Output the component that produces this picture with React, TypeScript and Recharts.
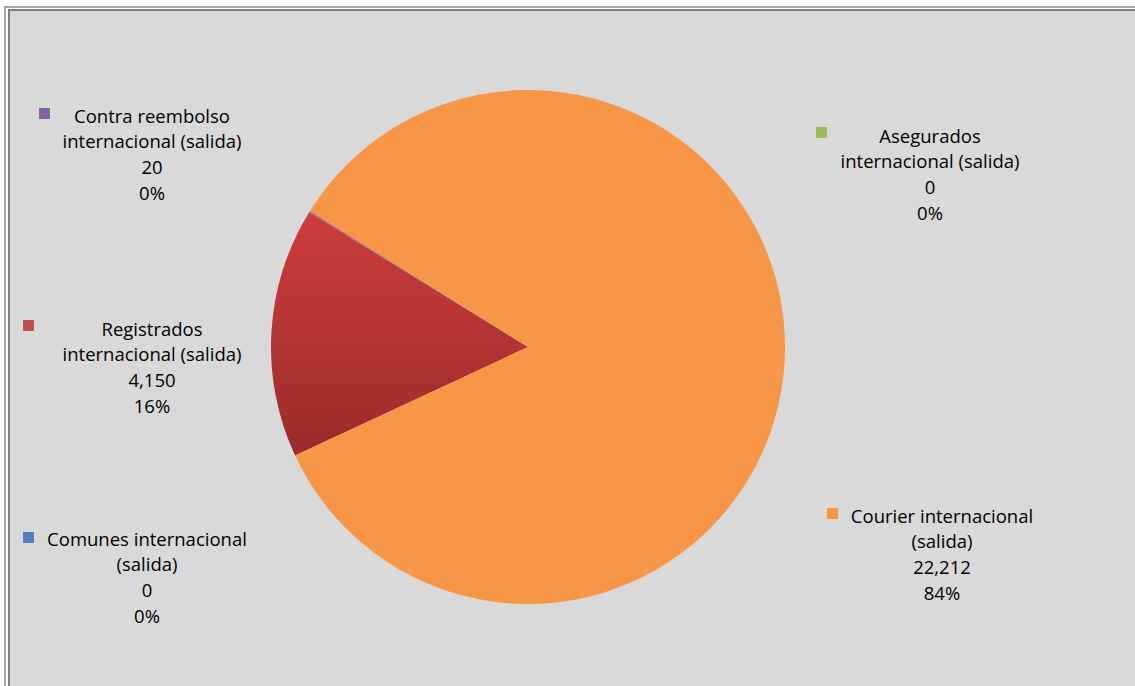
import { Cell, Pie, PieChart } from 'recharts'

const categories = [
    'Comunes internacional (salida)',
    'Registrados internacional (salida)',
    'Contra reembolso internacional (salida)',
    'Courier internacional (salida)',
    'Asegurados internacional (salida)',
]
const shipments = [0, 4150, 20, 22212, 0]

const sliceFills = ['#4f81bd', 'url(#redFade)', '#8064a2', '#f79646', '#9bbb59']
const keyFills = ['#4f81bd', '#c0504d', '#8064a2', '#f79646', '#9bbb59']

// how Excel wrapped each label
const labelLines: Record<string, string[]> = {
    'Comunes internacional (salida)': ['Comunes internacional', '(salida)'],
    'Registrados internacional (salida)': ['Registrados', 'internacional (salida)'],
    'Contra reembolso internacional (salida)': ['Contra reembolso', 'internacional (salida)'],
    'Courier internacional (salida)': ['Courier internacional', '(salida)'],
    'Asegurados internacional (salida)': ['Asegurados', 'internacional (salida)'],
}

// where the labels were dragged to: text center, first line, legend key
const labelSpots: Record<string, { x: number; y: number; kx: number; ky: number }> = {
    'Comunes internacional (salida)': { x: 147, y: 538, kx: 23, ky: 532 },
    'Registrados internacional (salida)': { x: 152, y: 328, kx: 23, ky: 320 },
    'Contra reembolso internacional (salida)': { x: 152, y: 115, kx: 39, ky: 108 },
    'Courier internacional (salida)': { x: 942, y: 515, kx: 827, ky: 508 },
    'Asegurados internacional (salida)': { x: 930, y: 135, kx: 816, ky: 127 },
}

const data = categories.map((name, i) => ({ name, value: shipments[i] }))

const lineGap = 25.8

function renderLabel(props: any) {
    const name = props.name ?? props.payload?.name
    const spot = labelSpots[name]
    if (!spot) return null
    const idx = categories.indexOf(name)
    const lines = [
        ...labelLines[name],
        Number(props.value).toLocaleString('en-US'),
        `${Math.round((props.percent ?? 0) * 100)}%`,
    ]
    return (
        <g key={name}>
            <rect x={spot.kx} y={spot.ky} width={11} height={11} fill={keyFills[idx]} />
            {lines.map((t, i) => (
                <text
                    key={i}
                    x={spot.x}
                    y={spot.y + i * lineGap}
                    textAnchor="middle"
                    dominantBaseline="central"
                    fill="#000"
                    fontFamily="'Open Sans', sans-serif"
                    fontSize={18.5}
                >
                    {t}
                </text>
            ))}
        </g>
    )
}

export default function App() {
    return (
        <div style={{ position: 'relative', width: 1135, height: 686, overflow: 'hidden', background: '#fff' }}>
            <style>{'body{margin:0}'}</style>
            <div
                style={{
                    position: 'absolute',
                    left: 4,
                    top: 6,
                    width: 1200,
                    height: 800,
                    borderLeft: '2px solid #a6a6a6',
                    borderTop: '2px solid #a6a6a6',
                }}
            />
            <div
                style={{
                    position: 'absolute',
                    left: 8,
                    top: 9,
                    width: 1200,
                    height: 800,
                    borderLeft: '2px solid #808080',
                    borderTop: '2px solid #808080',
                    background: '#d9d9d9',
                }}
            />
            <div style={{ position: 'absolute', left: 0, top: 0 }}>
                <PieChart width={1135} height={686} margin={{ top: 0, right: 0, bottom: 0, left: 0 }}>
                    <defs>
                        <linearGradient id="redFade" x1="0" y1="0" x2="0" y2="1">
                            <stop offset="0%" stopColor="#cd3e3c" />
                            <stop offset="100%" stopColor="#9b2a2a" />
                        </linearGradient>
                    </defs>
                    <Pie
                        data={data}
                        dataKey="value"
                        nameKey="name"
                        cx={528}
                        cy={347}
                        outerRadius={257}
                        startAngle={205}
                        endAngle={-155}
                        stroke="none"
                        label={renderLabel}
                        labelLine={false}
                        isAnimationActive={false}
                    >
                        {data.map((d, i) => (
                            <Cell key={d.name} fill={sliceFills[i]} />
                        ))}
                    </Pie>
                </PieChart>
            </div>
        </div>
    )
}
